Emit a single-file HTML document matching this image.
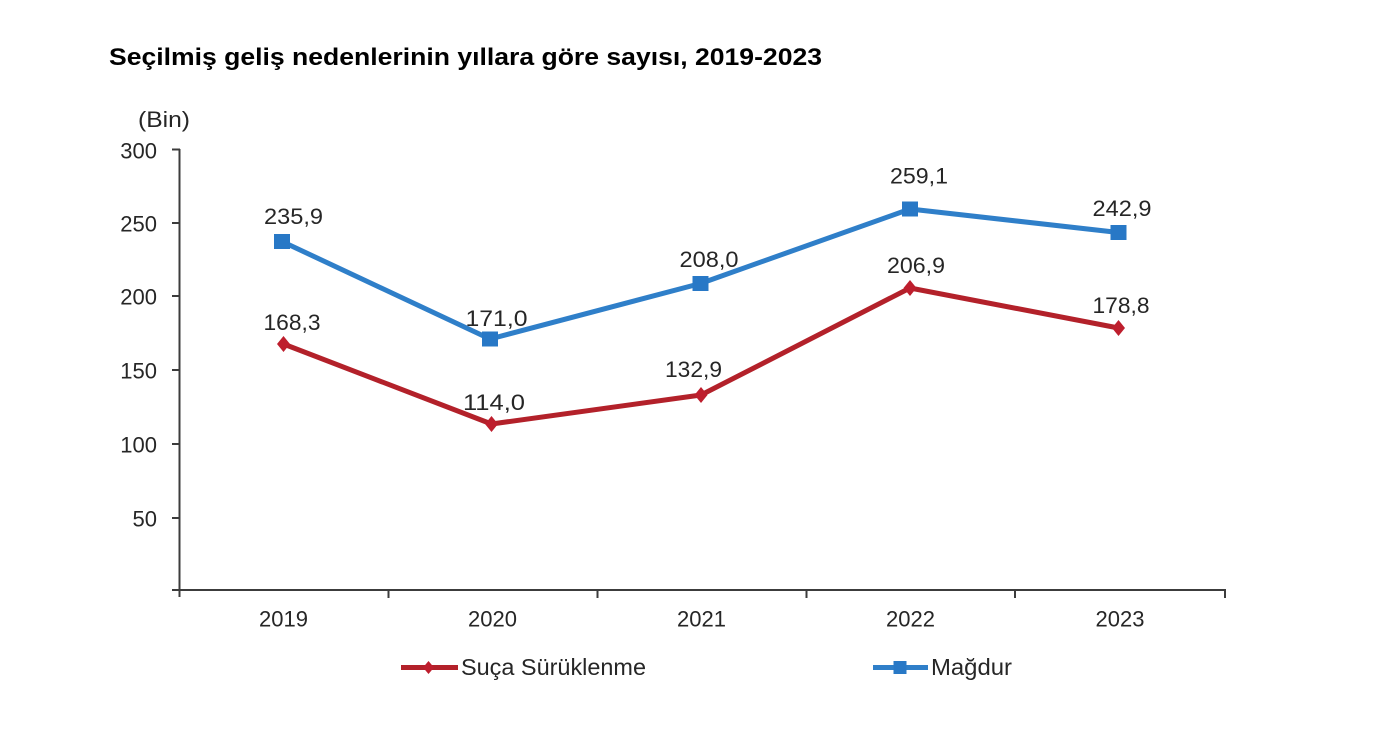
<!DOCTYPE html>
<html>
<head>
<meta charset="utf-8">
<style>
  html,body{margin:0;padding:0;background:#fff;}
  svg{display:block;}
  text{font-family:"Liberation Sans", Arial, sans-serif;fill:#262626;}
</style>
</head>
<body>
<svg width="1400" height="736" viewBox="0 0 1400 736" xmlns="http://www.w3.org/2000/svg">
  <rect width="1400" height="736" fill="#fff"/>

  <!-- Title -->
  <text x="109" y="65" font-size="24" font-weight="bold" style="fill:#000" textLength="713" lengthAdjust="spacingAndGlyphs">Seçilmiş geliş nedenlerinin yıllara göre sayısı, 2019-2023</text>

  <!-- Unit -->
  <text x="138" y="127" font-size="22" textLength="52" lengthAdjust="spacingAndGlyphs">(Bin)</text>

  <!-- Axes -->
  <g stroke="#3c3c3c" stroke-width="2" fill="none">
    <line x1="179.5" y1="149" x2="179.5" y2="597"/>
    <line x1="172" y1="590" x2="1226" y2="590"/>
    <!-- y ticks -->
    <line x1="172" y1="149.5" x2="180" y2="149.5"/>
    <line x1="172" y1="223" x2="180" y2="223"/>
    <line x1="172" y1="296" x2="180" y2="296"/>
    <line x1="172" y1="370" x2="180" y2="370"/>
    <line x1="172" y1="444" x2="180" y2="444"/>
    <line x1="172" y1="518" x2="180" y2="518"/>
    <!-- x ticks -->
    <line x1="388.5" y1="590" x2="388.5" y2="598"/>
    <line x1="597.5" y1="590" x2="597.5" y2="598"/>
    <line x1="806.5" y1="590" x2="806.5" y2="598"/>
    <line x1="1015" y1="590" x2="1015" y2="598"/>
    <line x1="1225" y1="589" x2="1225" y2="598"/>
  </g>

  <!-- Y labels -->
  <g font-size="22" text-anchor="end">
    <text x="157" y="158.5">300</text>
    <text x="157" y="231.5">250</text>
    <text x="157" y="304.5">200</text>
    <text x="157" y="378.5">150</text>
    <text x="157" y="452.5">100</text>
    <text x="157" y="526.5">50</text>
  </g>

  <!-- X labels -->
  <g font-size="22" text-anchor="middle">
    <text x="283.5" y="626.5">2019</text>
    <text x="492.5" y="626.5">2020</text>
    <text x="701.5" y="626.5">2021</text>
    <text x="910.5" y="626.5">2022</text>
    <text x="1120" y="626.5">2023</text>
  </g>

  <!-- Blue series (Mağdur) -->
  <polyline points="282,241.5 490,339 700.5,283.5 910,209 1118.5,232.5" fill="none" stroke="#2F7FC9" stroke-width="5" stroke-linejoin="round"/>
  <g fill="#2878C6">
    <rect x="274" y="234" width="16" height="15"/>
    <rect x="482" y="331.5" width="16" height="15"/>
    <rect x="692.5" y="276" width="16" height="15"/>
    <rect x="902" y="201.5" width="16" height="15"/>
    <rect x="1110.5" y="225" width="16" height="15"/>
  </g>

  <!-- Red series (Suça Sürüklenme) -->
  <polyline points="283.5,344 491.5,424 701,395 910,288 1118.5,328" fill="none" stroke="#B3212A" stroke-width="5" stroke-linejoin="round"/>
  <g fill="#BE1E2D">
    <polygon points="283.5,336 290,344 283.5,352 277,344"/>
    <polygon points="491.5,416 498,424 491.5,432 485,424"/>
    <polygon points="701,387 707.5,395 701,403 694.5,395"/>
    <polygon points="910,280 916.5,288 910,296 903.5,288"/>
    <polygon points="1118.5,320 1125,328 1118.5,336 1112,328"/>
  </g>

  <!-- Data labels -->
  <g font-size="22.5" text-anchor="middle">
    <text x="293.5" y="224" textLength="59" lengthAdjust="spacingAndGlyphs">235,9</text>
    <text x="496.5" y="326" textLength="62" lengthAdjust="spacingAndGlyphs">171,0</text>
    <text x="709" y="267" textLength="59" lengthAdjust="spacingAndGlyphs">208,0</text>
    <text x="919" y="183.5" textLength="58" lengthAdjust="spacingAndGlyphs">259,1</text>
    <text x="1122" y="216" textLength="59" lengthAdjust="spacingAndGlyphs">242,9</text>

    <text x="292" y="330" textLength="57" lengthAdjust="spacingAndGlyphs">168,3</text>
    <text x="494" y="410" textLength="62" lengthAdjust="spacingAndGlyphs">114,0</text>
    <text x="693.5" y="377" textLength="57" lengthAdjust="spacingAndGlyphs">132,9</text>
    <text x="916" y="273" textLength="58" lengthAdjust="spacingAndGlyphs">206,9</text>
    <text x="1121" y="313" textLength="57" lengthAdjust="spacingAndGlyphs">178,8</text>
  </g>

  <!-- Legend -->
  <line x1="401" y1="667.5" x2="458" y2="667.5" stroke="#B3212A" stroke-width="5"/>
  <polygon points="428.5,661 434,667.5 428.5,674 423,667.5" fill="#BE1E2D"/>
  <text x="461" y="675" font-size="23" textLength="185" lengthAdjust="spacingAndGlyphs">Suça Sürüklenme</text>

  <line x1="873" y1="667.5" x2="928" y2="667.5" stroke="#2F7FC9" stroke-width="5"/>
  <rect x="893.5" y="661" width="13" height="13" fill="#2878C6"/>
  <text x="931" y="675" font-size="23" textLength="81" lengthAdjust="spacingAndGlyphs">Mağdur</text>
</svg>
</body>
</html>
